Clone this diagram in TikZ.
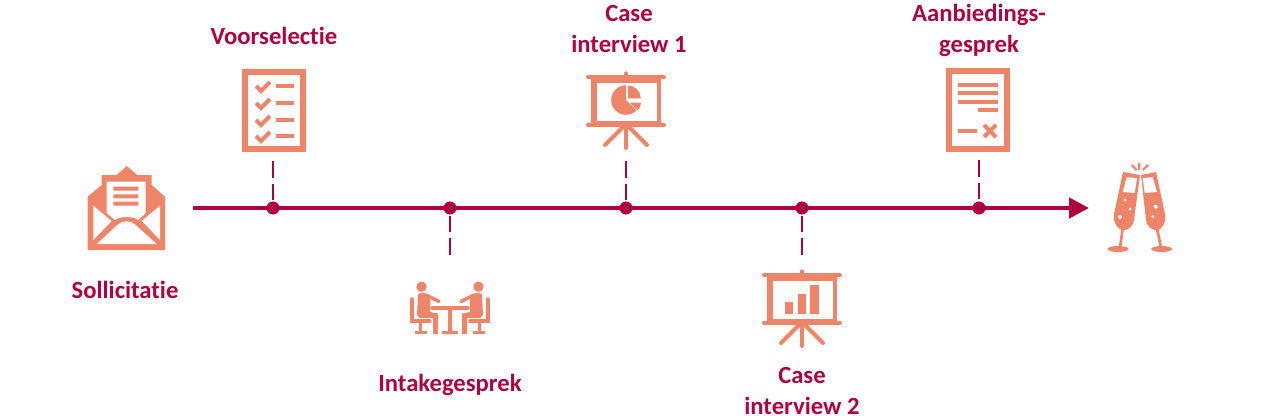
\documentclass[tikz,border=0pt]{standalone}
\usepackage{fontspec}
\setmainfont[Ligatures=NoCommon]{Carlito}
\usetikzlibrary{arrows.meta}
\definecolor{tijdlijn}{HTML}{AF0040}
\definecolor{icoon}{HTML}{EE8468}
\tikzset{
	stap/.style={circle,fill=tijdlijn,inner sep=0pt,minimum size=9.8pt},
	steel/.style={draw=tijdlijn,line width=1.9pt,dash pattern=on 12.5pt off 4.5pt},
	label/.style={text=tijdlijn,font=\fontsize{18.5}{23.2}\selectfont\bfseries,align=center},
	dun/.style={draw=icoon,line width=3pt,line cap=round}
}
\newcommand{\vink}[2]{\draw[icoon,line width=3pt] (#1,#2) -- ++(5,5) -- ++(9,-9)}
\newcommand{\bord}[2]{
	\fill[icoon] (#1-35,#2-24) rectangle (#1+35,#2+23);
	\fill[white] (#1-29.5,#2-18.5) rectangle (#1+30.5,#2+19.5);
	\draw[dun] (#1-38,#2-23.7) -- (#1+38,#2-23.7);
	\draw[dun] (#1-38,#2+23.5) -- (#1+38,#2+23.5);
	\draw[dun,line width=2.5pt] (#1,#2-23) -- (#1,#2-28);
	\draw[dun] (#1,#2+23) -- (#1,#2+47);
	\draw[dun] (#1,#2+23) -- (#1-21,#2+44);
	\draw[dun] (#1,#2+23) -- (#1+21,#2+44)
}
\newcommand{\persoon}[1]{
	\fill[icoon] (450+#1*28.5,286.7) circle (5.2);
	\fill[icoon] (450+#1*32,294) -- (450+#1*27,292.5) -- (450+#1*20,296) -- (450+#1*20,312) -- (450+#1*12,313.5) -- (450+#1*12,334) -- (450+#1*17,334) -- (450+#1*17,318) -- (450+#1*30,318) -- (450+#1*33,315) -- cycle;
	\draw[dun,line width=2.6pt] (450+#1*24,295) -- (450+#1*11,301.5);
	\draw[dun,line width=2.6pt] (450+#1*38,299) -- (450+#1*38,321) -- (450+#1*20,321);
	\fill[icoon] (450+#1*28,322) rectangle (450+#1*31,332);
	\fill[icoon] (450+#1*23,331) rectangle (450+#1*35,334)
}
\begin{document}
\begin{tikzpicture}[x=0.75pt,y=-0.75pt]
	\useasboundingbox (0,0) rectangle (1283,415);
	% tijdlijn
	\coordinate (begin) at (193,208);
	\coordinate (eind) at (1089,208);
	\draw[tijdlijn,line width=3.4pt,-{Triangle[length=15pt,width=15pt]}] (begin) -- (eind);
	\node[stap] (s1) at (273,208) {};
	\node[stap] (s2) at (450,208) {};
	\node[stap] (s3) at (626,208) {};
	\node[stap] (s4) at (802,208) {};
	\node[stap] (s5) at (979,208) {};
	\coordinate (e1) at (273,161);
	\coordinate (e2) at (450,255);
	\coordinate (e3) at (626,161);
	\coordinate (e4) at (802,255);
	\coordinate (e5) at (979,160);
	\draw[steel] (e1) -- (s1);
	\draw[steel] (e2) -- (s2);
	\draw[steel] (e3) -- (s3);
	\draw[steel] (e4) -- (s4);
	\draw[steel] (e5) -- (s5);
	% teksten
	\node[label] (sol) at (125,290) {Sollicitatie};
	\node[label] (voo) at (274,36) {Voorselectie};
	\node[label] (int) at (450,385) {Intakegesprek};
	\node[label] (ci1) at (629,29) {Case\\interview 1};
	\node[label] (ci2) at (802,391) {Case\\interview 2};
	\node[label] (aan) at (979,30) {Aanbiedings-\\gesprek};
	% envelop
	\fill[icoon] (87.7,196.7) -- (101.7,185) -- (101.7,175) -- (116.7,175) -- (126.7,166) -- (137.3,175) -- (151.7,175) -- (151.7,185) -- (165,196.7) -- (165,250) -- (87.7,250) -- cycle;
	\fill[white] (106.7,181.7) -- (145.7,181.7) -- (145.7,213) -- (138.3,220) .. controls (133,216) and (120,216) .. (115,220) -- (106.7,213) -- cycle;
	\fill[white] (93.3,205.7) -- (111.7,221) -- (93.3,240) -- cycle;
	\fill[white] (160,205.7) -- (141.7,221) -- (160,240) -- cycle;
	\fill[white] (96.7,244) -- (117.3,225) .. controls (122,220) and (131,220) .. (135.7,225) -- (156.7,244) -- cycle;
	\fill[icoon] (113.3,186.7) rectangle (138.3,190.7) (113.3,194.3) rectangle (138.3,198.3) (113.3,201.7) rectangle (138.3,205.7);
	% checklist
	\draw[icoon,line width=4.6pt] (245,72) rectangle (303,149);
	\foreach \y in {86,103,120,136} {
		\vink{256}{\y};
		\fill[icoon] (276,\y-2) rectangle (294,\y+2);
	}
	% bord 1
	\bord{626}{101};
	\fill[icoon] (626,100) -- (626,85.2) arc (-90:-315:14.8) -- cycle;
	\fill[icoon] (628,98.3) -- (628,85.5) arc (-90:0:12.8) -- cycle;
	\fill[icoon] (630,102.7) -- (641,102.7) arc (0:45:11) -- cycle;
	% bord 2
	\bord{802}{299};
	\fill[icoon] (785,301.7) rectangle (793.3,314);
	\fill[icoon] (797.7,294) rectangle (806,314);
	\fill[icoon] (810.3,285) rectangle (818.7,314);
	% aanbieding
	\draw[icoon,line width=4.6pt] (949,71) rectangle (1007,149);
	\fill[icoon] (958,83) rectangle (998,87);
	\fill[icoon] (958,91) rectangle (998,95);
	\fill[icoon] (958,100) rectangle (998,104);
	\fill[icoon] (978,108) rectangle (998,112);
	\fill[icoon] (958,129) rectangle (977,133);
	\draw[icoon,line width=3pt] (984,125) -- (996,137);
	\draw[icoon,line width=3pt] (996,125) -- (984,137);
	% tafel
	\persoon{-1};
	\persoon{1};
	\draw[dun,line width=2.6pt] (432,308) -- (468,308);
	\fill[icoon] (448,308) rectangle (452,333) (442,331) rectangle (458,334);
	% glazen
	\fill[icoon] (1123,172) -- (1140,175) -- (1134,220) .. controls (1133,227) and (1128,230) .. (1124,230) .. controls (1117,230) and (1113,222) .. (1114,214) -- cycle;
	\fill[icoon] (1156,172) -- (1141,175) -- (1146,220) .. controls (1147,227) and (1152,230) .. (1156,230) .. controls (1163,230) and (1166,222) .. (1165,214) -- cycle;
	\fill[white] (1126.7,177.3) -- (1137,178) -- (1134.7,193) -- (1122.7,192) -- cycle;
	\fill[white] (1142.7,178) -- (1152.7,177.3) -- (1157,192) -- (1144.7,193) -- cycle;
	\fill[white] (1125,200) circle (1.5) (1130,209) circle (1.5) (1120,217) circle (2) (1155.7,206.7) circle (2) (1152.7,216.7) circle (1.5);
	\draw[icoon,line width=2pt] (1122.7,228) -- (1120,248);
	\draw[icoon,line width=2pt] (1157,228) -- (1161,248);
	\fill[icoon] (1118,249) ellipse (10.5 and 3) (1161.7,249) ellipse (10.5 and 3);
	\draw[icoon,line width=1.6pt] (1139.3,163) -- (1139.3,170) (1131.7,165) -- (1136.7,170) (1148.3,165) -- (1142.7,170);
\end{tikzpicture}
\end{document}
